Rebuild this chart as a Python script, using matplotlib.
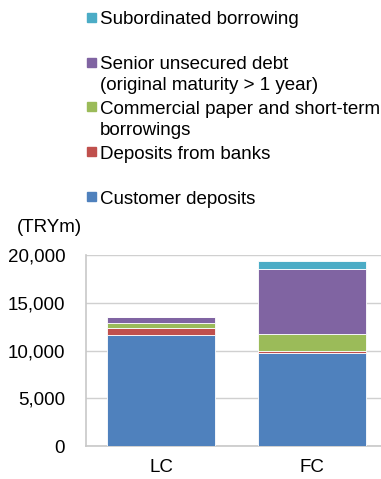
import numpy as np
from matplotlib import pyplot as plt
from matplotlib.patches import Rectangle

plt.rcParams['font.family'] = ['Liberation Sans', 'DejaVu Sans']

categories = ['LC', 'FC']
customer_deposits = [11600, 9760]
deposits_from_banks = [800, 170]
commercial_paper = [460, 1780]
senior_unsecured = [690, 6800]
subordinated = [0, 900]

series_names = ['Customer deposits', 'Deposits from banks',
                'Commercial paper and short-term\nborrowings',
                'Senior unsecured debt\n(original maturity > 1 year)',
                'Subordinated borrowing']
series_values = [customer_deposits, deposits_from_banks, commercial_paper,
                 senior_unsecured, subordinated]
colors = ['#4f81bd', '#c0504d', '#9bbb59', '#8064a2', '#4bacc6']

W, H = 381, 479
fig = plt.figure(figsize=(W / 100, H / 100), dpi=100)
ax = fig.add_axes([86 / W, 1 - 446.3 / H, 301 / W, 191.3 / H])

x = np.arange(len(categories))
bottom = np.zeros(len(categories))
for vals, c in zip(series_values, colors):
    ax.bar(x, vals, 0.715, bottom=bottom, color=c, edgecolor='white', linewidth=0.6, zorder=3)
    bottom += np.array(vals)

ax.set_xlim(-0.5, 1.5)
ax.set_ylim(0, 20000)
ax.set_yticks(np.arange(0, 20001, 5000))
ax.set_yticklabels([f'{v:,}' for v in range(0, 20001, 5000)], fontsize=13.5)
ax.set_xticks(x)
ax.set_xticklabels(categories, fontsize=13.5)
ax.tick_params(length=0)
ax.tick_params(axis='y', pad=15)
ax.tick_params(axis='x', pad=9)
ax.grid(axis='y', color='#d0d0d0', linewidth=1, zorder=0)
for s in ['top', 'right']:
    ax.spines[s].set_visible(False)
for s in ['left', 'bottom']:
    ax.spines[s].set_color('#c8c8c8')
    ax.spines[s].set_linewidth(1.2)

fig.text(17 / W, 1 - 228 / H, '(TRYm)', fontsize=13.5, va='center', ha='left')

# legend drawn by hand to keep Excel-like slot spacing
leg_y = [196.7, 151.7, 106.7, 62.3, 17.3]
for name, c, yy in zip(series_names, colors, leg_y):
    fig.patches.append(Rectangle((87 / W, 1 - (yy + 4.5) / H), 9 / W, 9 / H,
                                 transform=fig.transFigure, color=c))
    fig.text(100 / W, 1 - (yy + 7) / H, name.split('\n')[0], fontsize=13.5,
             va='baseline', ha='left')
    if '\n' in name:
        fig.text(100 / W, 1 - (yy + 28) / H, name.split('\n')[1], fontsize=13.5,
                 va='baseline', ha='left')

fig.savefig('out.png', dpi=100)
